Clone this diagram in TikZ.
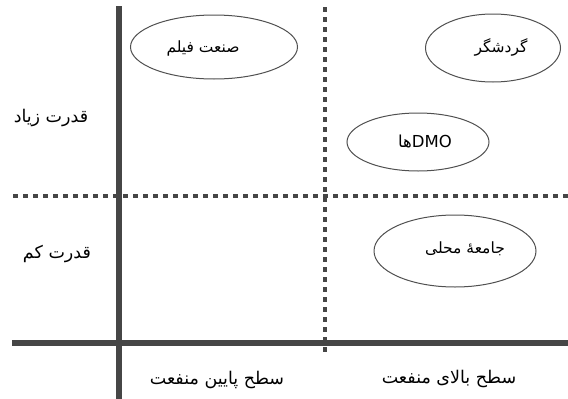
\documentclass[tikz,border=0pt]{standalone}
\usepackage{fontspec}
\setmainfont{DejaVu Sans}
\newfontfamily\arabicfont[Script=Arabic]{DejaVu Sans}
\TeXXeTstate=1
\usetikzlibrary{shapes.geometric}
\definecolor{axisgray}{HTML}{464646}
\definecolor{ellgray}{HTML}{505050}
\tikzset{
  axisline/.style={line width=6pt, draw=axisgray},
  dotline/.style={line width=4.5pt, draw=axisgray, dash pattern=on 4.5pt off 5.5pt},
  oval/.style={ellipse, draw=ellgray, line width=1pt, inner sep=0pt},
  lbl/.style={font=\arabicfont\fontsize{15.5}{18}\selectfont, inner sep=0pt, text=black},
  biglbl/.style={font=\arabicfont\fontsize{17.5}{20}\selectfont, inner sep=0pt, text=black}
}
\begin{document}
\begin{tikzpicture}[x=1pt,y=-1pt]
\useasboundingbox (0,0) rectangle (568,399);
\fill[white] (0,0) rectangle (568,399);
% axes
\coordinate (vt) at (119,6);
\coordinate (vb) at (119,399);
\coordinate (hl) at (12,343);
\coordinate (hr) at (568,343);
\coordinate (dvt) at (325,7);
\coordinate (dvb) at (325,356);
\coordinate (dhl) at (13,196);
\coordinate (dhr) at (568,196);
\draw[dotline] (dvt) -- (dvb);
\draw[dotline] (dhl) -- (dhr);
\draw[axisline] (vt) -- (vb);
\draw[axisline] (hl) -- (hr);
% ellipses
\node[oval, minimum width=167pt, minimum height=64pt] (e1) at (214,47) {};
\node[oval, minimum width=135pt, minimum height=68pt] (e2) at (493,48) {};
\node[oval, minimum width=142pt, minimum height=58pt] (e3) at (418,142) {};
\node[oval, minimum width=162pt, minimum height=72pt] (e4) at (455,251) {};
% ellipse texts
\node[lbl] (t1) at (203,48) {\beginR صنعت فیلم\endR};
\node[lbl] (t2) at (501,47) {\beginR گردشگر\endR};
\node[lbl, font=\arabicfont\fontsize{16.5}{19}\selectfont] (t3) at (425,141) {\beginR\beginL DMO\endL ها\endR};
\node[lbl] (t4) at (465,249) {\beginR جامعهٔ محلی\endR};
% side labels
\node[biglbl] (s1) at (51,118) {\beginR قدرت زیاد\endR};
\node[biglbl] (s2) at (57,254) {\beginR قدرت کم\endR};
% bottom labels
\node[biglbl] (b1) at (217,380) {\beginR سطح پایین منفعت\endR};
\node[biglbl] (b2) at (449,379) {\beginR سطح بالای منفعت\endR};
\end{tikzpicture}
\end{document}
